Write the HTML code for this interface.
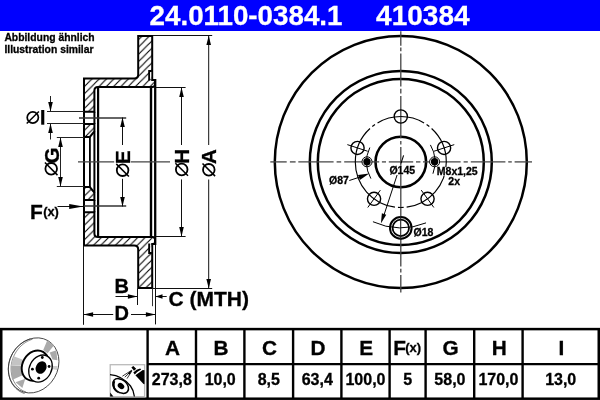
<!DOCTYPE html>
<html><head><meta charset="utf-8"><style>
html,body{margin:0;padding:0;background:#fff;width:600px;height:400px;overflow:hidden}
text{font-family:"Liberation Sans",sans-serif;font-weight:bold;stroke:#000;stroke-width:0.3px}
</style></head><body>
<svg width="600" height="400" viewBox="0 0 600 400" style="display:block;will-change:transform"><rect x="0" y="0" width="600" height="31" fill="#0000ff"/>
<text x="149.6" y="25" font-size="27.75" text-anchor="start" fill="#fff" style="stroke:#fff" >24.0110-0384.1</text>
<text x="376.1" y="25" font-size="28" text-anchor="start" fill="#fff" style="stroke:#fff" >410384</text>
<text x="4.4" y="41.3" font-size="10.35" text-anchor="start" fill="#000" style="stroke:#000" >Abbildung ähnlich</text>
<text x="4.4" y="53.3" font-size="10.35" text-anchor="start" fill="#000" style="stroke:#000" >Illustration similar</text>
<defs>
<pattern id="hat" patternUnits="userSpaceOnUse" width="7.3" height="7.3" patternTransform="translate(3,0)">
<path d="M-1,8.3 L8.3,-1 M-1,1 L1,-1 M6.3,8.3 L8.3,6.3" stroke="#000" stroke-width="1.1"/>
</pattern>
</defs>
<path d="M84.00,78.40 L134.20,78.40 Q138.20,78.40 138.20,74.40 L138.20,35.90 L152.20,35.90 L152.20,79.90 L155.00,79.90 L155.00,85.50 L153.00,87.00 L97.90,87.00 Q94.40,87.00 94.40,90.50 L94.40,111.80 L84.00,111.80 Z" fill="url(#hat)" stroke="#000" stroke-width="2.0" stroke-linejoin="miter"/>
<path d="M84.00,245.60 L134.20,245.60 Q138.20,245.60 138.20,249.60 L138.20,288.10 L152.20,288.10 L152.20,244.10 L155.00,244.10 L155.00,238.50 L153.00,237.00 L97.90,237.00 Q94.40,237.00 94.40,233.50 L94.40,212.20 L84.00,212.20 Z" fill="url(#hat)" stroke="#000" stroke-width="2.0" stroke-linejoin="miter"/>
<polygon points="84.00,124.00 94.40,124.00 94.40,131.50 89.80,137.00 84.00,137.00" fill="url(#hat)" stroke="#000" stroke-width="2.0" stroke-linejoin="miter"/>
<polygon points="84.00,200.00 94.40,200.00 94.40,192.50 89.80,187.00 84.00,187.00" fill="url(#hat)" stroke="#000" stroke-width="2.0" stroke-linejoin="miter"/>
<path d="M149.2,80.50 V71.00 H151.6" fill="none" stroke="#000" stroke-width="2.0"/>
<rect x="150.2" y="72.00" width="1.0" height="7" fill="#fff"/>
<path d="M149.2,243.50 V253.00 H151.6" fill="none" stroke="#000" stroke-width="2.0"/>
<rect x="150.2" y="245.00" width="1.0" height="7" fill="#fff"/>
<line x1="84.00" y1="137.00" x2="84.00" y2="187.00" stroke="#000" stroke-width="2.0" />
<line x1="89.90" y1="137.00" x2="89.90" y2="187.00" stroke="#000" stroke-width="1.8" />
<line x1="94.40" y1="131.50" x2="94.40" y2="192.50" stroke="#000" stroke-width="2.0" />
<line x1="84.00" y1="111.80" x2="84.00" y2="124.00" stroke="#000" stroke-width="2.0" />
<line x1="94.40" y1="111.80" x2="94.40" y2="124.00" stroke="#000" stroke-width="2.0" />
<line x1="84.00" y1="212.20" x2="84.00" y2="200.00" stroke="#000" stroke-width="2.0" />
<line x1="94.40" y1="212.20" x2="94.40" y2="200.00" stroke="#000" stroke-width="2.0" />
<line x1="98.10" y1="87.50" x2="98.10" y2="236.50" stroke="#000" stroke-width="2.2" />
<line x1="151.00" y1="87.00" x2="151.00" y2="237.00" stroke="#000" stroke-width="2.4" />
<line x1="155.20" y1="79.00" x2="155.20" y2="245.00" stroke="#000" stroke-width="2.3" />
<line x1="83.50" y1="245.60" x2="83.50" y2="324.80" stroke="#111" stroke-width="1.0" />
<line x1="155.50" y1="245.00" x2="155.50" y2="324.40" stroke="#111" stroke-width="1.0" />
<line x1="137.50" y1="288.50" x2="137.50" y2="305.00" stroke="#111" stroke-width="1.0" />
<line x1="152.50" y1="288.50" x2="152.50" y2="306.20" stroke="#333" stroke-width="1.0" />
<line x1="78.00" y1="161.80" x2="114.20" y2="161.80" stroke="#444" stroke-width="1.3" />
<line x1="130.80" y1="161.80" x2="170.00" y2="161.80" stroke="#444" stroke-width="1.3" />
<line x1="79.00" y1="117.90" x2="126.20" y2="117.90" stroke="#333" stroke-width="1.5" />
<line x1="84.00" y1="206.10" x2="126.20" y2="206.10" stroke="#333" stroke-width="1.5" />
<line x1="47.00" y1="111.50" x2="84.00" y2="111.50" stroke="#222" stroke-width="1.0" />
<line x1="47.00" y1="123.50" x2="84.00" y2="123.50" stroke="#222" stroke-width="1.0" />
<line x1="50.50" y1="96.00" x2="50.50" y2="111.50" stroke="#222" stroke-width="1.0" />
<polygon points="50.50,111.50 48.20,101.90 52.80,101.90" fill="#000"/>
<line x1="50.50" y1="123.50" x2="50.50" y2="139.50" stroke="#222" stroke-width="1.0" />
<polygon points="50.50,123.50 52.80,133.10 48.20,133.10" fill="#000"/>
<g transform="translate(32.8,117.5) rotate(0)"><circle cx="0" cy="0" r="5.6" fill="none" stroke="#000" stroke-width="1.7"/><line x1="-6.10" y1="6.10" x2="6.10" y2="-6.10" stroke="#000" stroke-width="1.44"/></g>
<rect x="41.2" y="110" width="3.1" height="14.7" fill="#000"/>
<line x1="56.80" y1="137.50" x2="84.00" y2="137.50" stroke="#222" stroke-width="1.0" />
<line x1="56.80" y1="186.50" x2="84.00" y2="186.50" stroke="#222" stroke-width="1.0" />
<line x1="60.50" y1="137.50" x2="60.50" y2="186.50" stroke="#222" stroke-width="1.0" />
<polygon points="60.50,137.50 62.80,147.10 58.20,147.10" fill="#000"/>
<polygon points="60.50,186.50 58.20,176.90 62.80,176.90" fill="#000"/>
<text x="0" y="0" font-size="20.5" text-anchor="middle" transform="translate(51.2,155.6) rotate(-90)" dy="7.34">G</text>
<g transform="translate(51.2,168.8) rotate(-90)"><circle cx="0" cy="0" r="5.8" fill="none" stroke="#000" stroke-width="1.8"/><line x1="-6.30" y1="6.30" x2="6.30" y2="-6.30" stroke="#000" stroke-width="1.53"/></g>
<line x1="122.50" y1="117.50" x2="122.50" y2="145.00" stroke="#111" stroke-width="1.0" />
<line x1="122.50" y1="178.80" x2="122.50" y2="206.50" stroke="#111" stroke-width="1.0" />
<polygon points="122.50,117.50 124.80,127.10 120.20,127.10" fill="#000"/>
<polygon points="122.50,206.50 120.20,196.90 124.80,196.90" fill="#000"/>
<text x="0" y="0" font-size="20.5" text-anchor="middle" transform="translate(122.6,157.2) rotate(-90)" dy="7.34">E</text>
<g transform="translate(122.6,170.2) rotate(-90)"><circle cx="0" cy="0" r="5.8" fill="none" stroke="#000" stroke-width="1.8"/><line x1="-6.30" y1="6.30" x2="6.30" y2="-6.30" stroke="#000" stroke-width="1.53"/></g>
<line x1="156.00" y1="87.50" x2="185.60" y2="87.50" stroke="#111" stroke-width="1.0" />
<line x1="155.60" y1="236.50" x2="185.60" y2="236.50" stroke="#111" stroke-width="1.0" />
<line x1="181.50" y1="87.50" x2="181.50" y2="145.00" stroke="#111" stroke-width="1.0" />
<line x1="181.50" y1="179.40" x2="181.50" y2="236.50" stroke="#111" stroke-width="1.0" />
<polygon points="181.50,87.50 183.80,97.10 179.20,97.10" fill="#000"/>
<polygon points="181.50,236.50 179.20,226.90 183.80,226.90" fill="#000"/>
<text x="0" y="0" font-size="20.5" text-anchor="middle" transform="translate(181.7,156.4) rotate(-90)" dy="7.34">H</text>
<g transform="translate(181.7,169.5) rotate(-90)"><circle cx="0" cy="0" r="5.8" fill="none" stroke="#000" stroke-width="1.8"/><line x1="-6.30" y1="6.30" x2="6.30" y2="-6.30" stroke="#000" stroke-width="1.53"/></g>
<line x1="153.00" y1="35.50" x2="212.20" y2="35.50" stroke="#111" stroke-width="1.0" />
<line x1="153.00" y1="288.50" x2="212.20" y2="288.50" stroke="#111" stroke-width="1.0" />
<line x1="208.70" y1="35.50" x2="208.70" y2="145.00" stroke="#111" stroke-width="1.0" />
<line x1="208.70" y1="179.50" x2="208.70" y2="288.50" stroke="#111" stroke-width="1.0" />
<polygon points="208.70,35.50 211.00,45.10 206.40,45.10" fill="#000"/>
<polygon points="208.70,288.50 206.40,278.90 211.00,278.90" fill="#000"/>
<text x="0" y="0" font-size="20.5" text-anchor="middle" transform="translate(208.8,156.6) rotate(-90)" dy="7.34">A</text>
<g transform="translate(208.8,169.8) rotate(-90)"><circle cx="0" cy="0" r="5.8" fill="none" stroke="#000" stroke-width="1.8"/><line x1="-6.30" y1="6.30" x2="6.30" y2="-6.30" stroke="#000" stroke-width="1.53"/></g>
<text x="30.0" y="218.8" font-size="21" text-anchor="start" fill="#000" style="stroke:#000" >F</text>
<text x="43.2" y="216.2" font-size="12.8" text-anchor="start" fill="#000" style="stroke:#000" >(x)</text>
<line x1="57.50" y1="206.50" x2="83.00" y2="206.50" stroke="#111" stroke-width="1.0" />
<polygon points="83.20,206.50 69.20,209.10 69.20,203.90" fill="#000"/>
<text x="114.5" y="293.3" font-size="20" text-anchor="start" fill="#000" style="stroke:#000" >B</text>
<line x1="115.50" y1="296.50" x2="137.50" y2="296.50" stroke="#111" stroke-width="1.0" />
<polygon points="137.50,296.50 127.90,298.80 127.90,294.20" fill="#000"/>
<line x1="155.50" y1="296.50" x2="166.70" y2="296.50" stroke="#111" stroke-width="1.0" />
<polygon points="155.50,296.50 162.50,294.20 162.50,298.80" fill="#000"/>
<text x="168.5" y="305.8" font-size="21" text-anchor="start" fill="#000" style="stroke:#000" >C (MTH)</text>
<text x="114.5" y="320.3" font-size="20" text-anchor="start" fill="#000" style="stroke:#000" >D</text>
<line x1="83.50" y1="314.50" x2="113.20" y2="314.50" stroke="#111" stroke-width="1.0" />
<line x1="131.00" y1="314.50" x2="155.50" y2="314.50" stroke="#111" stroke-width="1.0" />
<polygon points="83.50,314.50 93.10,312.20 93.10,316.80" fill="#000"/>
<polygon points="155.50,314.50 145.90,316.80 145.90,312.20" fill="#000"/>
<circle cx="400.8" cy="162.0" r="126.0" fill="none" stroke="#000" stroke-width="2.5" />
<circle cx="400.8" cy="162.0" r="91.0" fill="none" stroke="#000" stroke-width="2.5" />
<circle cx="400.8" cy="162.0" r="83.0" fill="none" stroke="#000" stroke-width="2.5" />
<circle cx="400.8" cy="162.0" r="25.3" fill="none" stroke="#000" stroke-width="2.6" />
<line x1="270.30" y1="161.90" x2="286.70" y2="161.90" stroke="#444" stroke-width="1.3" />
<line x1="289.90" y1="161.90" x2="295.60" y2="161.90" stroke="#444" stroke-width="1.3" />
<line x1="298.30" y1="161.90" x2="333.60" y2="161.90" stroke="#444" stroke-width="1.3" />
<line x1="336.60" y1="161.90" x2="341.20" y2="161.90" stroke="#444" stroke-width="1.3" />
<line x1="344.20" y1="161.90" x2="379.20" y2="161.90" stroke="#444" stroke-width="1.3" />
<line x1="381.90" y1="161.90" x2="386.00" y2="161.90" stroke="#444" stroke-width="1.3" />
<line x1="388.80" y1="161.90" x2="413.20" y2="161.90" stroke="#444" stroke-width="1.3" />
<line x1="416.00" y1="161.90" x2="420.40" y2="161.90" stroke="#444" stroke-width="1.3" />
<line x1="423.00" y1="161.90" x2="460.60" y2="161.90" stroke="#444" stroke-width="1.3" />
<line x1="463.60" y1="161.90" x2="467.80" y2="161.90" stroke="#444" stroke-width="1.3" />
<line x1="470.80" y1="161.90" x2="505.40" y2="161.90" stroke="#444" stroke-width="1.3" />
<line x1="508.20" y1="161.90" x2="511.80" y2="161.90" stroke="#444" stroke-width="1.3" />
<line x1="514.60" y1="161.90" x2="532.00" y2="161.90" stroke="#444" stroke-width="1.3" />
<line x1="400.80" y1="31.20" x2="400.80" y2="45.80" stroke="#444" stroke-width="1.3" />
<line x1="400.80" y1="47.60" x2="400.80" y2="51.20" stroke="#444" stroke-width="1.3" />
<line x1="400.80" y1="53.40" x2="400.80" y2="86.60" stroke="#444" stroke-width="1.3" />
<line x1="400.80" y1="88.80" x2="400.80" y2="93.40" stroke="#444" stroke-width="1.3" />
<line x1="400.80" y1="96.00" x2="400.80" y2="138.60" stroke="#444" stroke-width="1.3" />
<line x1="400.80" y1="141.00" x2="400.80" y2="144.60" stroke="#444" stroke-width="1.3" />
<line x1="400.80" y1="147.00" x2="400.80" y2="266.40" stroke="#444" stroke-width="1.3" />
<line x1="400.80" y1="268.80" x2="400.80" y2="272.60" stroke="#444" stroke-width="1.3" />
<line x1="400.80" y1="275.00" x2="400.80" y2="292.50" stroke="#444" stroke-width="1.3" />
<path d="M400.8,116.5 A45.5,45.5 0 0 1 400.8,207.5" fill="none" stroke="#000" stroke-width="1.15" stroke-dasharray="24.4 3 3.4 3 103 3 6 0"/>
<path d="M400.8,116.5 A45.5,45.5 0 0 0 400.8,207.5" fill="none" stroke="#000" stroke-width="1.15" stroke-dasharray="24.4 3 3.4 3 103 3 6 0"/>
<circle cx="400.80" cy="116.50" r="6.6" fill="none" stroke="#000" stroke-width="1.4"/>
<circle cx="444.07" cy="147.94" r="6.6" fill="none" stroke="#000" stroke-width="1.4"/>
<line x1="433.90" y1="151.25" x2="454.25" y2="144.63" stroke="#000" stroke-width="1.0" />
<circle cx="427.54" cy="198.81" r="6.6" fill="none" stroke="#000" stroke-width="1.4"/>
<line x1="421.25" y1="190.15" x2="433.83" y2="207.47" stroke="#000" stroke-width="1.0" />
<circle cx="374.06" cy="198.81" r="6.6" fill="none" stroke="#000" stroke-width="1.4"/>
<line x1="380.35" y1="190.15" x2="367.77" y2="207.47" stroke="#000" stroke-width="1.0" />
<circle cx="357.53" cy="147.94" r="6.6" fill="none" stroke="#000" stroke-width="1.4"/>
<line x1="367.70" y1="151.25" x2="347.35" y2="144.63" stroke="#000" stroke-width="1.0" />
<circle cx="367.00" cy="161.8" r="5.0" fill="#fff" stroke="#000" stroke-width="1.0"/>
<circle cx="367.00" cy="161.8" r="3.7" fill="#000"/>
<path d="M370.89,178.58 A34.2,34.2 0 0 1 369.80,147.55" fill="none" stroke="#000" stroke-width="1.0"/>
<circle cx="434.60" cy="161.8" r="5.0" fill="#fff" stroke="#000" stroke-width="1.0"/>
<circle cx="434.60" cy="161.8" r="3.7" fill="#000"/>
<path d="M430.42,144.90 A34.2,34.2 0 0 1 432.94,173.70" fill="none" stroke="#000" stroke-width="1.0"/>
<circle cx="400.8" cy="227.9" r="10.8" fill="#fff" stroke="#000" stroke-width="2.0"/>
<circle cx="400.8" cy="227.9" r="8.2" fill="none" stroke="#000" stroke-width="1.8"/>
<path d="M426.02,222.88 A65.9,65.9 0 0 1 372.95,221.73" fill="none" stroke="#000" stroke-width="1.0"/>
<line x1="400.70" y1="216.00" x2="400.70" y2="240.00" stroke="#222" stroke-width="1.1" />
<line x1="397.10" y1="175.00" x2="383.00" y2="218.00" stroke="#000" stroke-width="1.0" />
<polygon points="380.90,223.40 381.89,213.19 386.26,214.65" fill="#000"/>
<line x1="403.60" y1="155.30" x2="401.00" y2="163.40" stroke="#000" stroke-width="1.1" />
<line x1="349.30" y1="180.50" x2="360.00" y2="177.00" stroke="#000" stroke-width="1.0" />
<polygon points="369.20,173.60 359.85,179.95 358.00,175.09" fill="#000"/>
<text x="329.1" y="184.2" font-size="10.5" text-anchor="start" fill="#000" style="stroke:#000" >Ø87</text>
<rect x="389.6" y="165.6" width="26" height="8.6" fill="#fff"/>
<text x="389.4" y="173.5" font-size="10.5" text-anchor="start" fill="#000" style="stroke:#000" >Ø145</text>
<rect x="436.6" y="167.2" width="40" height="8.4" fill="#fff"/>
<text x="436.8" y="175.1" font-size="10.5" text-anchor="start" fill="#000" style="stroke:#000" >M8x1,25</text>
<text x="448.3" y="184.9" font-size="10.5" text-anchor="start" fill="#000" style="stroke:#000" >2x</text>
<text x="413.5" y="235.6" font-size="10.5" text-anchor="start" fill="#000" style="stroke:#000" >Ø18</text>
<rect x="1.25" y="329.1" width="597.5" height="69.6" fill="none" stroke="#000" stroke-width="2.5"/>
<line x1="147.60" y1="329.00" x2="147.60" y2="398.00" stroke="#000" stroke-width="2.4" />
<line x1="196.00" y1="329.00" x2="196.00" y2="398.00" stroke="#000" stroke-width="2.4" />
<line x1="244.40" y1="329.00" x2="244.40" y2="398.00" stroke="#000" stroke-width="2.4" />
<line x1="293.10" y1="329.00" x2="293.10" y2="398.00" stroke="#000" stroke-width="2.4" />
<line x1="341.40" y1="329.00" x2="341.40" y2="398.00" stroke="#000" stroke-width="2.4" />
<line x1="389.60" y1="329.00" x2="389.60" y2="398.00" stroke="#000" stroke-width="2.4" />
<line x1="425.60" y1="329.00" x2="425.60" y2="398.00" stroke="#000" stroke-width="2.4" />
<line x1="474.20" y1="329.00" x2="474.20" y2="398.00" stroke="#000" stroke-width="2.4" />
<line x1="522.60" y1="329.00" x2="522.60" y2="398.00" stroke="#000" stroke-width="2.4" />
<line x1="147.40" y1="364.20" x2="598.00" y2="364.20" stroke="#000" stroke-width="2.3" />
<text x="172.60" y="354.7" font-size="20.8" text-anchor="middle" fill="#000" style="stroke:#000" >A</text>
<text x="171.80" y="385.3" font-size="16" text-anchor="middle" fill="#000" style="stroke:#000" >273,8</text>
<text x="221.00" y="354.7" font-size="20.8" text-anchor="middle" fill="#000" style="stroke:#000" >B</text>
<text x="220.20" y="385.3" font-size="16" text-anchor="middle" fill="#000" style="stroke:#000" >10,0</text>
<text x="269.55" y="354.7" font-size="20.8" text-anchor="middle" fill="#000" style="stroke:#000" >C</text>
<text x="268.75" y="385.3" font-size="16" text-anchor="middle" fill="#000" style="stroke:#000" >8,5</text>
<text x="318.05" y="354.7" font-size="20.8" text-anchor="middle" fill="#000" style="stroke:#000" >D</text>
<text x="317.25" y="385.3" font-size="16" text-anchor="middle" fill="#000" style="stroke:#000" >63,4</text>
<text x="366.30" y="354.7" font-size="20.8" text-anchor="middle" fill="#000" style="stroke:#000" >E</text>
<text x="365.50" y="385.3" font-size="16" text-anchor="middle" fill="#000" style="stroke:#000" >100,0</text>
<text x="393.3" y="354.5" font-size="20.8">F</text>
<text x="405.2" y="351.8" font-size="13">(x)</text>
<text x="407.60" y="385.3" font-size="16" text-anchor="middle" fill="#000" style="stroke:#000" >5</text>
<text x="450.70" y="354.7" font-size="20.8" text-anchor="middle" fill="#000" style="stroke:#000" >G</text>
<text x="449.90" y="385.3" font-size="16" text-anchor="middle" fill="#000" style="stroke:#000" >58,0</text>
<text x="499.20" y="354.7" font-size="20.8" text-anchor="middle" fill="#000" style="stroke:#000" >H</text>
<text x="498.40" y="385.3" font-size="16" text-anchor="middle" fill="#000" style="stroke:#000" >170,0</text>
<text x="561.50" y="354.7" font-size="20.8" text-anchor="middle" fill="#000" style="stroke:#000" >I</text>
<text x="560.70" y="385.3" font-size="16" text-anchor="middle" fill="#000" style="stroke:#000" >13,0</text>

<g>
 <ellipse cx="33.6" cy="365.4" rx="24.2" ry="28.6" transform="rotate(30 33.6 365.4)" fill="#fff" stroke="#333" stroke-width="0.8"/>
 <path d="M30.5,338.8 C16,343 7,358 8.6,372 C9.5,383 16,391 24.5,393.5" fill="none" stroke="#333" stroke-width="0.7"/>
 <path d="M32.5,339.2 C18.5,343.5 9.8,358 11.2,371.5 C12,382 18,389.5 26,392" fill="none" stroke="#444" stroke-width="0.6"/>
 <polygon points="47.2,340.4 54,345.2 47.6,353.2 43.2,350" fill="#aaa"/>
 <polygon points="49.7,352.5 56.3,350.3 57.4,360.2 52.5,359.6" fill="#aaa"/>
 <polygon points="52.5,366 57.6,366 57,370 52,369" fill="#ccc"/>
 <polygon points="13.8,356.3 23,359.8 22.4,364.9 10.9,366.1" fill="#c4c4c4"/>
 <polygon points="10.9,366.1 22.4,365.5 25.3,374.1 12,379.9" fill="#aaa"/>
 <polygon points="15.5,382.2 22.4,387.9 25.3,378.7" fill="#aaa"/>
 <ellipse cx="35.2" cy="365.6" rx="12.6" ry="15.8" transform="rotate(30 35.2 365.6)" fill="#fff" stroke="#000" stroke-width="1.9"/>
 <ellipse cx="40.5" cy="368.6" rx="11" ry="14.2" transform="rotate(28 40.5 368.6)" fill="#fff" stroke="#000" stroke-width="1.3"/>
 <ellipse cx="41.1" cy="367.6" rx="5.2" ry="6.5" transform="rotate(28 41.1 367.6)" fill="#000"/>
 <circle cx="42.3" cy="357.5" r="1.4" fill="#000"/><circle cx="49.1" cy="366.5" r="1.4" fill="#000"/>
 <circle cx="38.7" cy="378.2" r="1.4" fill="#000"/><circle cx="32.4" cy="369.2" r="1.4" fill="#000"/>
</g>


<rect x="110.2" y="364.7" width="34.4" height="32" fill="#fff" stroke="#bbb" stroke-width="1.3"/>
<path d="M110.0,374.6 C117.5,375.2 125.5,379.8 130.5,386 C132.8,389 134,392.5 134.4,396.5" fill="none" stroke="#000" stroke-width="1.3"/>
<ellipse cx="120.7" cy="386.0" rx="8.8" ry="6.2" transform="rotate(40 120.7 386.0)" fill="none" stroke="#000" stroke-width="1.5"/>
<path d="M113.2,380.5 C110.8,385.5 113.2,391.8 119.8,393.6 C115.2,390.8 113.8,386 115.2,381.6 Z" fill="#000"/>
<ellipse cx="121.0" cy="386.0" rx="3.6" ry="2.7" transform="rotate(40 121.0 386.0)" fill="#000"/>
<path d="M110.2,392.6 L113.4,396.5 L110.2,396.5 Z" fill="#000"/>
<polygon points="131.4,367.5 133.3,365.9 136.2,368.8 134,370.8" fill="#000"/>
<path d="M133.3,372.6 Q136.5,369 140.2,368.4 L141.2,369.6 Q137.5,371.5 134.8,374.4 Z" fill="#000"/>
<polygon points="135.4,375.2 142.8,369.9 144.5,370.3 144.5,384.2 143.5,383.9" fill="#000"/>
<polygon points="131.8,370 127.8,373.5 129.8,374.6" fill="#000"/>
<path d="M131.8,370.2 L122.4,376.2 M131.8,370.5 L124.8,377.2 M132,370.8 L127,378.6" stroke="#000" stroke-width="0.8"/>
</svg>
</body></html>
